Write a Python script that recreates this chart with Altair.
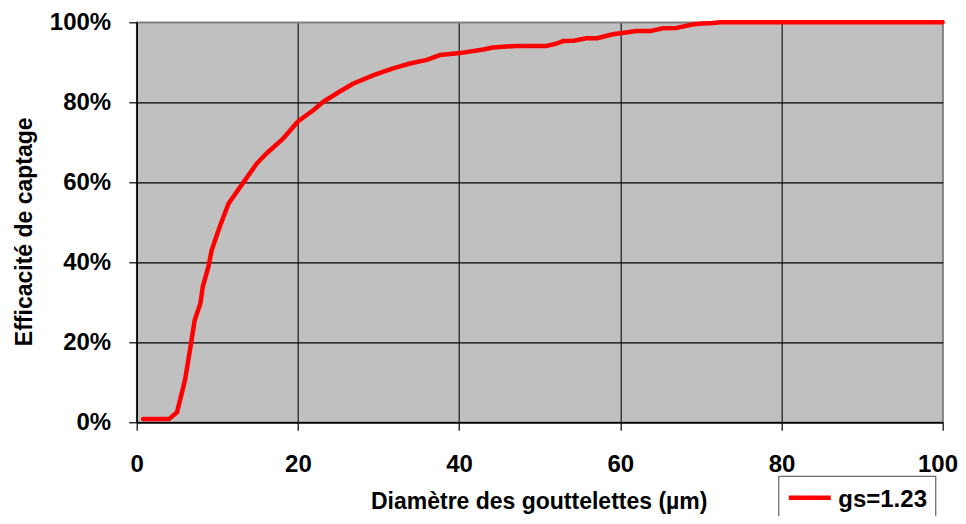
import altair as alt
import pandas as pd

diametre = [0.8, 4.0, 5.0, 6.0, 6.6, 7.2, 7.9, 8.2, 8.9, 9.3, 10.3, 11.4, 13.0, 14.9,
            16.1, 18.2, 20.0, 21.9, 23.2, 25.2, 26.9, 29.4, 31.8, 33.9, 36.0, 37.6,
            38.9, 40.1, 43.0, 44.2, 47.1, 50.9, 52.1, 52.9, 54.2, 55.8, 57.1, 59.1,
            62.0, 63.7, 65.3, 67.0, 69.1, 70.3, 71.5, 72.4, 100.0]
efficacite = [0.8, 0.8, 2.5, 10.6, 18.0, 25.6, 29.7, 33.9, 38.9, 43.0, 48.9, 54.7, 59.3, 64.7,
              67.2, 71.0, 75.2, 78.0, 80.2, 82.7, 84.7, 86.8, 88.5, 89.7, 90.6, 91.8,
              92.1, 92.3, 93.2, 93.7, 94.1, 94.1, 94.7, 95.3, 95.4, 96.0, 96.0, 97.0,
              97.8, 97.8, 98.5, 98.6, 99.5, 99.7, 99.8, 100.0, 100.0]
serie = "gs=1.23"
ticks = [0, 20, 40, 60, 80, 100]

df = pd.DataFrame({"d": diametre, "e": efficacite, "s": [serie] * len(diametre)})

FONT = "Liberation Sans"

chart = alt.Chart(df).mark_line(strokeWidth=4.5, strokeJoin="round", strokeCap="round").encode(
    x=alt.X("d:Q", scale=alt.Scale(domain=[0, 100], nice=False),
            axis=alt.Axis(values=ticks, title="Diamètre des gouttelettes (µm)",
                          labelFontSize=24, labelPadding=22, labelFlush=False,
                          labelAlign={"condition": {"test": "datum.value == 100", "value": "right"},
                                      "value": "center"},
                          labelOffset={"condition": {"test": "datum.value == 100", "value": 14.8},
                                       "value": 0},
                          titleFontSize=23, titleX=402, titleY=86, titleBaseline="alphabetic",
                          gridColor={"condition": {"test": "datum.value == 100", "value": "#808080"},
                                     "value": "#1a1a1a"})),
    y=alt.Y("e:Q", scale=alt.Scale(domain=[0, 100], nice=False),
            axis=alt.Axis(values=ticks, title="Efficacité de captage",
                          labelExpr="datum.value + '%'",
                          labelFontSize=24, labelPadding=18, labelFlush=False,
                          labelBaseline="middle",
                          titleFontSize=23, titleAngle=270, titleX=-105, titleY=209,
                          titleBaseline="alphabetic",
                          gridColor={"condition": {"test": "datum.value == 100", "value": "#808080"},
                                     "value": "black"})),
    color=alt.Color("s:N", scale=alt.Scale(domain=[serie], range=["#FF0000"]),
                    legend=alt.Legend(orient="none", legendX=641.6, legendY=453.5, title=None,
                                      strokeColor="#444444", fillColor="white", padding=8,
                                      symbolType="M-1,-0.45H1", symbolSize=1764,
                                      symbolStrokeWidth=4.5,
                                      labelFont=FONT, labelFontSize=24, labelFontWeight="bold",
                                      labelBaseline="alphabetic",
                                      labelOffset=5, labelColor="black")),
).properties(
    width=806, height=400,
    autosize=alt.AutoSizeParams(type="none"),
    padding={"left": 128.7, "top": 14.3, "right": 15, "bottom": 93.5},
).configure(
    font=FONT,
).configure_view(
    fill="#C0C0C0", stroke="#808080", strokeWidth=1.5,
).configure_axis(
    labelFont=FONT, titleFont=FONT, labelFontWeight="bold", titleFontWeight="bold",
    labelColor="black", titleColor="black",
    domainColor="black", domainWidth=1.5, tickColor="black", tickSize=8, tickWidth=1.2,
    grid=True, gridWidth=1.2, gridOpacity=1,
)

chart.save("out.html", embed_options={"renderer": "svg", "actions": False})
